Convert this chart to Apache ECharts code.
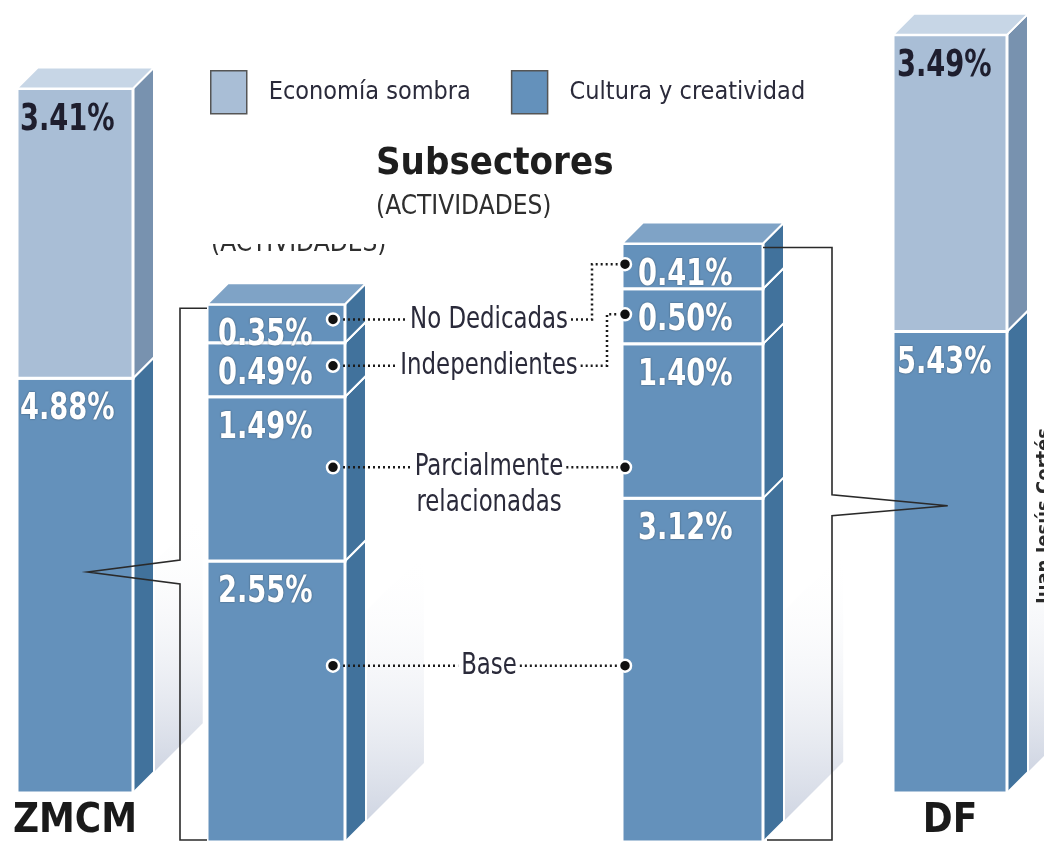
<!DOCTYPE html>
<html>
<head>
<meta charset="utf-8">
<title>Economía sombra / Cultura y creatividad</title>
<script src="https://cdn.jsdelivr.net/npm/echarts@6/dist/echarts.min.js"></script>
<style>
  html, body { margin: 0; padding: 0; background: #fff; }
  #chart { width: 1044px; height: 842px; }
</style>
</head>
<body>
<div id="chart"></div>
<script>
// datos
const places = ['ZMCM', 'DF'];
const cultura = [4.88, 5.43];
const sombra = [3.41, 3.49];
const subsectores = ['Base', 'Parcialmente\nrelacionadas', 'Independientes', 'No Dedicadas'];
const subZMCM = [2.55, 1.49, 0.49, 0.35];
const subDF = [3.12, 1.40, 0.50, 0.41];

const FONT = '"Liberation Sans Narrow", "DejaVu Sans Condensed", sans-serif';
const NARROW = 0.82; // estrecha el texto hacia la tipografía condensada del original
const DEPTH = 21;
const colors = {
  cultura: { front: '#6491bb', side: '#41729c', top: '#7fa3c6', text: '#ffffff' },
  sombra: { front: '#a9bed6', side: '#7892af', top: '#c7d6e6', text: '#1e1e2e' }
};

// una rejilla por barra: ZMCM, DF, subsectores ZMCM, subsectores DF
const grids = [
  { left: 17, width: 116, top: 0, bottom: 46 },
  { left: 893, width: 114, top: 0, bottom: 46 },
  { left: 207, width: 138, top: 0, bottom: 0 },
  { left: 622, width: 141, top: 0, bottom: 0 }
];
const yMax = [9.33, 9.33, 7.64, 7.64];
const labelPad = [3, 4, 11, 16];

function renderSegment(params, api, gi) {
  const start = api.value(1), end = api.value(2), val = api.value(3);
  const pal = api.value(4) === 1 ? colors.sombra : colors.cultura;
  const isTop = api.value(5) === 1;
  const pb = api.coord([0, start]);
  const pt = api.coord([0, end]);
  const w = api.size([1, 0])[0];
  const x0 = pb[0] - w / 2, x1 = pb[0] + w / 2;
  const yb = pb[1], yt = pt[1];
  const d = DEPTH;
  const children = [];
  if (start === 0) {
    const sw = w * 0.42, sh = 210;
    children.push({
      type: 'polygon',
      shape: { points: [[x1 + d, yb - d], [x1 + d + sw, yb - d - sw], [x1 + d + sw, yb - d - sw - sh], [x1 + d, yb - d - sh]] },
      style: {
        fill: new echarts.graphic.LinearGradient(0, 1, 0, 0, [
          { offset: 0, color: 'rgba(160,172,198,0.5)' },
          { offset: 1, color: 'rgba(255,255,255,0)' }
        ])
      }
    });
  }
  children.push({
    type: 'polygon',
    shape: { points: [[x1, yt], [x1 + d, yt - d], [x1 + d, yb - d], [x1, yb]] },
    style: { fill: pal.side, stroke: '#fff', lineWidth: 2 }
  });
  children.push({
    type: 'rect',
    shape: { x: x0, y: yt, width: w, height: yb - yt },
    style: { fill: pal.front, stroke: '#fff', lineWidth: 3 }
  });
  if (isTop) {
    children.push({
      type: 'polygon',
      shape: { points: [[x0, yt], [x0 + d, yt - d], [x1 + d, yt - d], [x1, yt]] },
      style: { fill: pal.top, stroke: '#fff', lineWidth: 2 }
    });
  }
  children.push({
    type: 'text',
    x: x0 + labelPad[gi], y: yt + 13, scaleX: NARROW,
    style: {
      x: 0, y: 0,
      text: val.toFixed(2) + '%',
      font: 'bold 37px ' + FONT,
      fill: pal.text,
      align: 'left', verticalAlign: 'top',
      textShadowColor: pal === colors.cultura ? 'rgba(0,0,0,0.45)' : 'rgba(0,0,0,0)',
      textShadowBlur: 2
    }
  });
  return { type: 'group', children };
}

function makeSeries(name, gi, data) {
  return {
    type: 'custom', name, xAxisIndex: gi, yAxisIndex: gi, data,
    itemStyle: { color: name === 'Economía sombra' ? colors.sombra.front : colors.cultura.front },
    encode: { x: 0, y: [1, 2] },
    renderItem: (params, api) => renderSegment(params, api, gi)
  };
}

const series = [];
places.forEach((p, i) => {
  series.push(makeSeries('Cultura y creatividad', i, [[0, 0, cultura[i], cultura[i], 0, 0]]));
  series.push(makeSeries('Economía sombra', i, [[0, cultura[i], cultura[i] + sombra[i], sombra[i], 1, 1]]));
});
[subZMCM, subDF].forEach((vals, j) => {
  let acc = 0;
  const data = vals.map((v, k) => {
    const item = [0, acc, acc + v, v, 0, k === vals.length - 1 ? 1 : 0];
    acc += v;
    return item;
  });
  series.push(makeSeries('Cultura y creatividad', 2 + j, data));
});

const chart = echarts.init(document.getElementById('chart'));
chart.setOption({
  animation: false,
  backgroundColor: '#fff',
  title: {
    text: 'Subsectores', subtext: '(ACTIVIDADES)',
    left: 376, top: 145, itemGap: 11, padding: 0,
    textStyle: { fontFamily: FONT, fontSize: 38, fontWeight: 'bold', color: '#1e1e1e' },
    subtextStyle: { fontFamily: FONT, fontSize: 26, color: '#2e2e2e' }
  },
  legend: {
    left: 210, top: 70, padding: 0, icon: 'rect',
    itemWidth: 36, itemHeight: 43, itemGap: 40, selectedMode: false,
    data: ['Economía sombra', 'Cultura y creatividad'],
    itemStyle: { borderColor: '#555', borderWidth: 1.5 },
    textStyle: { fontFamily: FONT, fontSize: 25, color: '#2a2a3a', padding: [4, 0, 0, 17] }
  },
  grid: grids,
  xAxis: grids.map((g, i) => ({
    type: 'category', gridIndex: i, data: [places[i % 2]],
    axisLine: { show: false }, axisTick: { show: false }, splitLine: { show: false },
    axisLabel: i < 2
      ? { fontFamily: FONT, fontSize: 40, fontWeight: 'bold', color: '#1a1a1a', margin: 9 }
      : { show: false }
  })),
  yAxis: grids.map((g, i) => ({ type: 'value', gridIndex: i, min: 0, max: yMax[i], show: false })),
  series
});

// llamadas, puntos y corchetes
const px = (g, v) => chart.convertToPixel({ gridIndex: g }, [places[g % 2], v]);
const CALL_FONT = '31px ' + FONT;
const ctx = document.createElement('canvas').getContext('2d');
ctx.font = CALL_FONT;
const edgesL = [0], edgesR = [0];
subZMCM.forEach(v => edgesL.push(edgesL[edgesL.length - 1] + v));
subDF.forEach(v => edgesR.push(edgesR[edgesR.length - 1] + v));

const leftDotX = grids[2].left + grids[2].width - 12;
const rightDotX = grids[3].left + 3;
const midX = (leftDotX + rightDotX) / 2 + 10;
const straightAt = [1.6, 3.4];
const bendOff = { 2: 18, 3: 33 };

const graphic = [];
const dotted = { stroke: '#1a1a1a', lineWidth: 2.5, lineDash: [2, 3], fill: null };
const dot = (x, y) => ({
  type: 'circle', z: 110, shape: { cx: x, cy: y, r: 6 },
  style: { fill: '#111', stroke: '#fff', lineWidth: 2.5 }
});

subsectores.forEach((name, k) => {
  let yL, yR, bend = null;
  if (k < 2) {
    yL = yR = px(2, straightAt[k])[1];
  } else {
    yL = px(2, (edgesL[k] + edgesL[k + 1]) / 2)[1] - 4;
    yR = px(3, (edgesR[k] + edgesR[k + 1]) / 2)[1] - 2;
    bend = rightDotX - bendOff[k];
  }
  const firstLine = name.split('\n')[0];
  const tw = ctx.measureText(firstLine).width * NARROW;
  graphic.push({
    type: 'text', z: 105, x: midX, y: yL - 18, scaleX: NARROW,
    style: { x: 0, y: 0, text: name, font: CALL_FONT, fill: '#2a2a3a', align: 'center', verticalAlign: 'top', lineHeight: 36 }
  });
  graphic.push({ type: 'polyline', z: 104, shape: { points: [[leftDotX, yL], [midX - tw / 2 - 3, yL]] }, style: dotted });
  const pts = [[midX + tw / 2 + 3, yL]];
  if (bend !== null) { pts.push([bend, yL], [bend, yR]); }
  pts.push([rightDotX, yR]);
  graphic.push({ type: 'polyline', z: 104, shape: { points: pts }, style: dotted });
  graphic.push(dot(leftDotX, yL), dot(rightDotX, yR));
});

// corchetes hacia las barras principales
const lineStyle = { stroke: '#2a2a2a', lineWidth: 1.6, fill: null };
const topL = px(2, edgesL[4])[1] + 4;
const tipL = [grids[0].left + grids[0].width * 0.61, px(0, 2.6)[1]];
const bxL = grids[2].left - 27;
graphic.push({
  type: 'polyline', z: 100,
  shape: { points: [[grids[2].left, topL], [bxL, topL], [bxL, tipL[1] - 12], tipL, [bxL, tipL[1] + 12], [bxL, 840], [grids[2].left, 840]] },
  style: lineStyle
});
const topR = px(3, edgesR[4])[1] + 4;
const tipR = [grids[1].left + grids[1].width * 0.48, px(1, 3.38)[1]];
const rEdge = grids[3].left + grids[3].width;
const bxR = rEdge + 69;
graphic.push({
  type: 'polyline', z: 100,
  shape: { points: [[rEdge, topR], [bxR, topR], [bxR, tipR[1] - 11], tipR, [bxR, tipR[1] + 10], [bxR, 840], [rEdge + 4, 840]] },
  style: lineStyle
});

// restos de imprenta: subtítulo fantasma y crédito
graphic.push({
  type: 'text', z: 1, x: 211, y: 231,
  style: { text: '(ACTIVIDADES)', font: '26px ' + FONT, fill: '#2e2e2e', align: 'left', verticalAlign: 'top' }
});
graphic.push({ type: 'rect', z: 2, shape: { x: 200, y: 224, width: 205, height: 20 }, style: { fill: '#fff' } });
graphic.push({
  type: 'text', z: 100, x: 1045, y: 516, rotation: Math.PI / 2,
  style: { text: 'Juan Jesús Cortés', font: 'bold 20px ' + FONT, fill: '#2a2a2a', align: 'center', verticalAlign: 'middle' }
});

chart.setOption({ graphic });
</script>
</body>
</html>
